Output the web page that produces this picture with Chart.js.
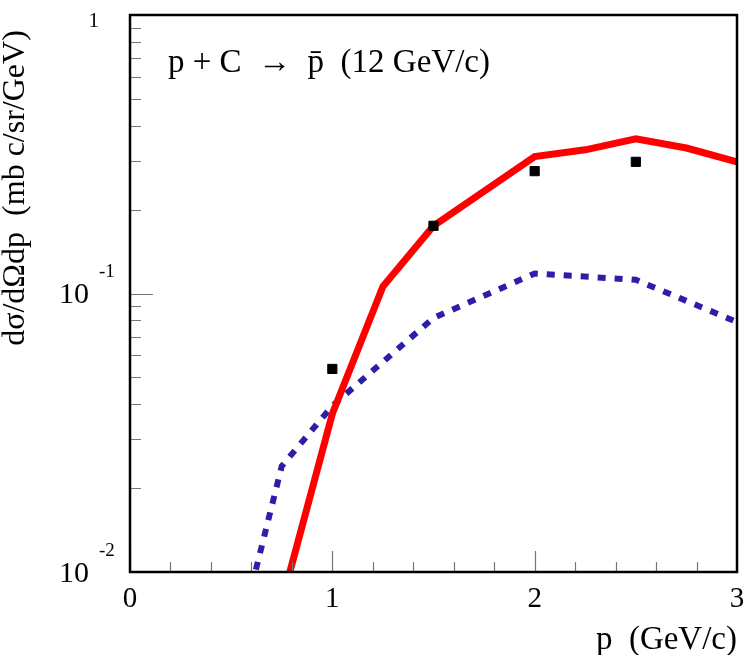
<!DOCTYPE html>
<html>
<head>
<meta charset="utf-8">
<script src="https://cdn.jsdelivr.net/npm/chart.js@4"></script>
<style>
  html, body { margin: 0; padding: 0; background: #fff; }
  #wrap { width: 747px; height: 655px; }
</style>
</head>
<body>
<div id="wrap"><canvas id="chart" width="747" height="655"></canvas></div>
<script>
// model curve (solid red)
const redP = [0.75, 1.0, 1.25, 1.5, 2.0, 2.25, 2.5, 2.75, 3.0];
const redSigma = [0.0078, 0.037, 0.106, 0.175, 0.31, 0.328, 0.359, 0.333, 0.297];

// model curve (dotted blue)
const blueP = [0.5, 0.75, 1.0, 1.5, 2.0, 2.5, 3.0];
const blueSigma = [0.0045, 0.024, 0.0395, 0.0817, 0.118, 0.112, 0.079];

// measured points
const dataP = [1.0, 1.5, 2.0, 2.5];
const dataSigma = [0.0536, 0.175, 0.275, 0.297];

// axis ticks
const xTicks = [0, 1, 2, 3];
const xTickLabels = ['0', '1', '2', '3'];
const yTicks = [0.01, 0.1, 1];
const yTickBase = ['10', '10', '1'];
const yTickExp = ['-2', '-1', ''];

const FONT = '"Liberation Serif", "DejaVu Serif", serif';

function toPoints(xs, ys) {
    return xs.map((x, i) => ({ x: x, y: ys[i] }));
}

const framePlugin = {
    id: 'frame',
    afterDraw(chart) {
        const ctx = chart.ctx;
        const area = chart.chartArea;
        const xs = chart.scales.x;
        const ys = chart.scales.y;
        ctx.save();

        // minor / major ticks, drawn inward
        ctx.strokeStyle = '#777';
        ctx.lineWidth = 1.2;
        ctx.beginPath();
        for (let i = 0; i <= 15; i++) {
            const v = i * 0.2;
            const px = Math.round(xs.getPixelForValue(v)) + 0.5;
            const len = xTicks.includes(Math.round(v * 10) / 10) ? 21 : 10;
            ctx.moveTo(px, area.bottom);
            ctx.lineTo(px, area.bottom - len);
        }
        for (let d = 0; d < yTicks.length - 1; d++) {
            for (let m = 1; m < 10; m++) {
                const v = yTicks[d] * m;
                const py = Math.round(ys.getPixelForValue(v)) + 0.5;
                const len = m === 1 ? 23 : 11;
                ctx.moveTo(area.left, py);
                ctx.lineTo(area.left + len, py);
            }
        }
        ctx.stroke();

        // frame
        ctx.strokeStyle = '#000';
        ctx.lineWidth = 2.5;
        ctx.strokeRect(area.left, area.top, area.right - area.left, area.bottom - area.top);

        // x tick labels
        ctx.fillStyle = '#000';
        ctx.font = '29px ' + FONT;
        ctx.textAlign = 'center';
        ctx.textBaseline = 'alphabetic';
        xTicks.forEach((v, i) => {
            ctx.fillText(xTickLabels[i], xs.getPixelForValue(v), 607);
        });

        // y tick labels with exponents
        yTicks.forEach((v, i) => {
            const py = ys.getPixelForValue(v);
            ctx.textBaseline = 'middle';
            if (yTickExp[i]) {
                ctx.font = '30px ' + FONT;
                ctx.textAlign = 'right';
                ctx.fillText(yTickBase[i], 89, py + 2);
                ctx.font = '19px ' + FONT;
                ctx.textAlign = 'left';
                ctx.fillText(yTickExp[i], 99, py - 21);
            } else {
                ctx.font = '21px ' + FONT;
                ctx.textAlign = 'right';
                ctx.fillText(yTickBase[i], 99, py + 6);
            }
        });

        // axis titles
        ctx.font = '33px ' + FONT;
        ctx.textAlign = 'right';
        ctx.textBaseline = 'alphabetic';
        ctx.fillText('p  (GeV/c)', area.right, 649);

        ctx.save();
        ctx.font = '32px ' + FONT;
        ctx.translate(24, 188);
        ctx.rotate(-Math.PI / 2);
        ctx.textAlign = 'center';
        ctx.fillText('d\u03c3/d\u03a9dp  (mb c/sr/GeV)', 0, 0);
        ctx.restore();

        // reaction label
        ctx.font = '33px ' + FONT;
        ctx.textAlign = 'left';
        ctx.textBaseline = 'middle';
        ctx.fillText('p + C  \u2192  p\u0304  (12 GeV/c)', 168, 63);

        ctx.restore();
    }
};

new Chart(document.getElementById('chart'), {
    type: 'line',
    data: {
        datasets: [
            {
                label: 'model A',
                data: toPoints(redP, redSigma),
                borderColor: '#ff0000',
                borderWidth: 7,
                pointRadius: 0,
                fill: false,
                tension: 0,
                clip: 0,
                order: 2
            },
            {
                label: 'model B',
                data: toPoints(blueP, blueSigma),
                borderColor: '#2b1ea8',
                borderWidth: 6,
                borderDash: [8, 9],
                borderCapStyle: 'butt',
                pointRadius: 0,
                fill: false,
                tension: 0,
                clip: 0,
                order: 3
            },
            {
                label: 'data',
                data: toPoints(dataP, dataSigma),
                showLine: false,
                pointStyle: 'rect',
                pointRadius: 6.5,
                pointBackgroundColor: '#000',
                pointBorderColor: '#000',
                pointBorderWidth: 1,
                clip: false,
                order: 1
            }
        ]
    },
    options: {
        responsive: false,
        animation: false,
        events: [],
        layout: { padding: { left: 130, right: 10, top: 15, bottom: 83 } },
        plugins: {
            legend: { display: false },
            tooltip: { enabled: false },
            title: { display: false }
        },
        scales: {
            x: { type: 'linear', min: 0, max: 3, display: false },
            y: { type: 'logarithmic', min: 0.01, max: 1, display: false }
        }
    },
    plugins: [framePlugin]
});
</script>
</body>
</html>
